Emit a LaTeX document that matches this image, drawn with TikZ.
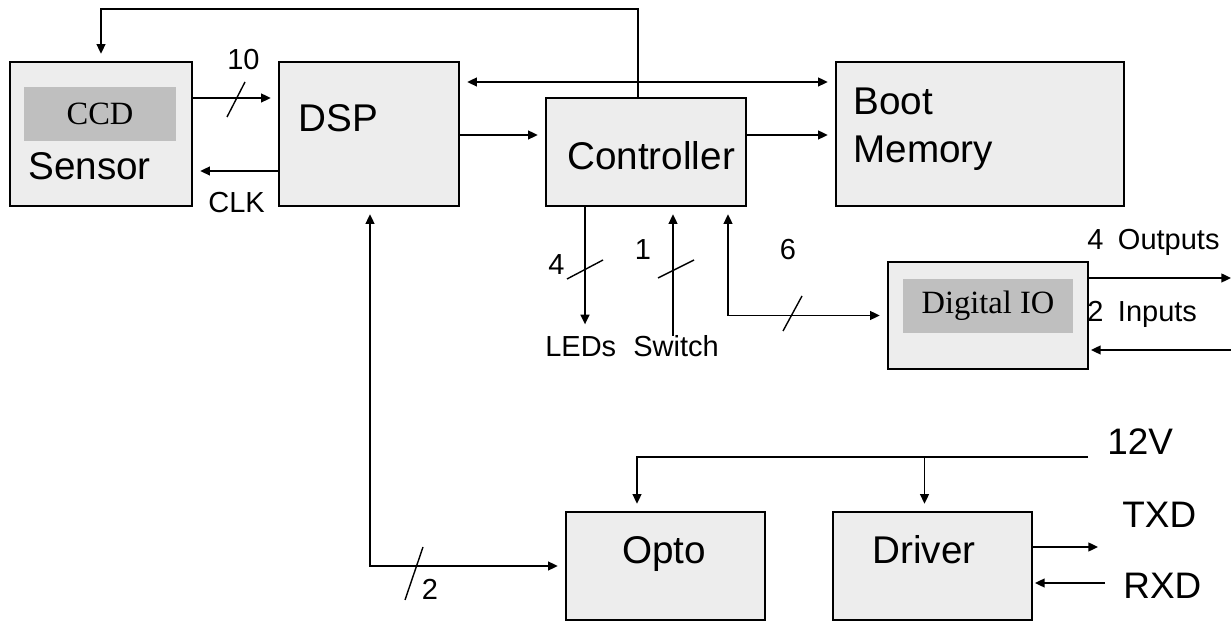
\documentclass[tikz,border=0pt]{standalone}
\usepackage{fontspec}
\setmainfont{Liberation Sans}
\newfontfamily\timesfont{Liberation Serif}
\usetikzlibrary{arrows.meta}
\newcommand{\px}{0.02cm}

\begin{document}
\begin{tikzpicture}[x=0.02cm,y=-0.02cm,
  blk/.style={draw,line width=1.4pt,fill=gray!14,inner sep=0pt},
  chip/.style={fill=black!25,inner sep=0pt,font=\timesfont\fontsize{18.5}{20}\selectfont},
  big/.style={font=\fontsize{22}{27.2}\selectfont,inner sep=0pt,anchor=base west},
  lbl/.style={font=\fontsize{16.5}{20}\selectfont,inner sep=0pt,anchor=base west},
  sig/.style={font=\fontsize{21}{25}\selectfont,inner sep=0pt,anchor=base west},
  wire/.style={line width=1.1pt},
  arr/.style={wire,-{Triangle[length=5.5pt,width=5pt]},shorten >=4pt},
  arrs/.style={wire,{Triangle[length=5.5pt,width=5pt]}-{Triangle[length=5.5pt,width=5pt]},shorten >=4pt,shorten <=4pt},
  bus/.style={line width=0.8pt}]
 	\useasboundingbox (0,0) rectangle (1231,621);

	% blocks
	\node[blk,minimum width=182*\px,minimum height=144*\px] (sensor) at (101,134) {};
	\node[blk,minimum width=180*\px,minimum height=144*\px] (dsp) at (369,134) {};
	\node[blk,minimum width=200*\px,minimum height=108*\px] (ctrl) at (646,152) {};
	\node[blk,minimum width=288*\px,minimum height=144*\px] (boot) at (980,134) {};
	\node[blk,minimum width=200*\px,minimum height=107*\px] (dio) at (988,315.5) {};
	\node[blk,minimum width=199*\px,minimum height=108*\px] (opto) at (665.5,566) {};
	\node[blk,minimum width=199*\px,minimum height=108*\px] (driver) at (932.5,566) {};

	\node[chip,minimum width=152*\px,minimum height=54*\px] (ccd) at (100,114) {CCD};
	\node[chip,minimum width=170*\px,minimum height=54*\px] (dioname) at (988,306) {Digital IO};

	\node[big] (sensorname) at (28,180) {Sensor};
	\node[big] (dspname) at (298,132) {DSP};
	\node[big] (ctrlname) at (567,170) {Controller};
	\node[big,align=left,anchor=north west] (bootname) at (853,88) {Boot\\Memory};
	\node[big] (optoname) at (622,563) {Opto};
	\node[big] (drivername) at (872,563) {Driver};

	% sensor and dsp
	\draw[arr] ([xshift=-8*\px]ctrl.north) -- ++(0,-88) -| (sensor.north);
	\draw[arr] (sensor.east |- 0,98) -- (dsp.west |- 0,98);
	\draw[bus] (227,117) -- (245,82);
	\node[lbl] (n10) at (227,70) {10};
	\draw[arr] (dsp.west |- 0,171) -- (sensor.east |- 0,171);
	\node[lbl] (clk) at (208,213) {CLK};

	% dsp, controller, memory
	\draw[arrs] (dsp.east |- 0,82) -- (boot.west |- 0,82);
	\draw[arr] (dsp.east |- 0,135) -- (ctrl.west |- 0,135);
	\draw[arr] (ctrl.east |- 0,135) -- (boot.west |- 0,135);

	% leds and switch
	\node[lbl] (leds) at (545,357) {LEDs};
	\node[lbl] (switch) at (633,357) {Switch};
	\draw[arr,shorten >=7pt] (ctrl.south -| 585,0) -- (leds.north -| 585,0);
	\draw[bus] (567,279) -- (603,260);
	\node[lbl] (n4) at (548,275) {4};
	\draw[arr] (switch.north -| 673,0) -- (ctrl.south -| 673,0);
	\draw[bus] (658,278) -- (694,260);
	\node[lbl,anchor=base] (n1) at (643,260) {1};

	% digital io
	\draw[arrs] (dio.west) -| (ctrl.south -| 728,0);
	\draw[bus] (783,331) -- (802,296);
	\node[lbl,anchor=base] (n6) at (788,260) {6};
	\coordinate (outR) at (1231,278);
	\coordinate (inR) at (1231,350);
	\draw[arr,shorten >=0pt] (dio.east |- outR) -- (outR);
	\draw[arr,shorten >=1pt] (inR) -- (dio.east |- inR);
	\node[lbl] (outs) at (1087,250) {4\enspace Outputs};
	\node[lbl] (ins) at (1087,322) {2\enspace Inputs};

	% opto
	\draw[arrs] (opto.west) -| (dsp.south -| 370,0);
	\draw[bus] (405,600) -- (423,547);
	\node[lbl,anchor=base] (n2) at (430,599) {2};

	% 12V, driver
	\node[sig] (v12) at (1107,455) {12V};
	\coordinate (vin) at (1088,457);
	\draw[arr] (vin) -| (opto.north -| 637,0);
	\draw[arr] ([xshift=-8*\px]driver.north |- vin) -- ([xshift=-8*\px]driver.north);
	\node[sig] (txd) at (1122,527) {TXD};
	\node[sig] (rxd) at (1123,598) {RXD};
	\coordinate (txdend) at (1098,547);
	\coordinate (rxdin) at (1105,583);
	\draw[arr,shorten >=0pt] (driver.east |- txdend) -- (txdend);
	\draw[arr,shorten >=1pt] (rxdin) -- (driver.east |- rxdin);
\end{tikzpicture}
\end{document}
